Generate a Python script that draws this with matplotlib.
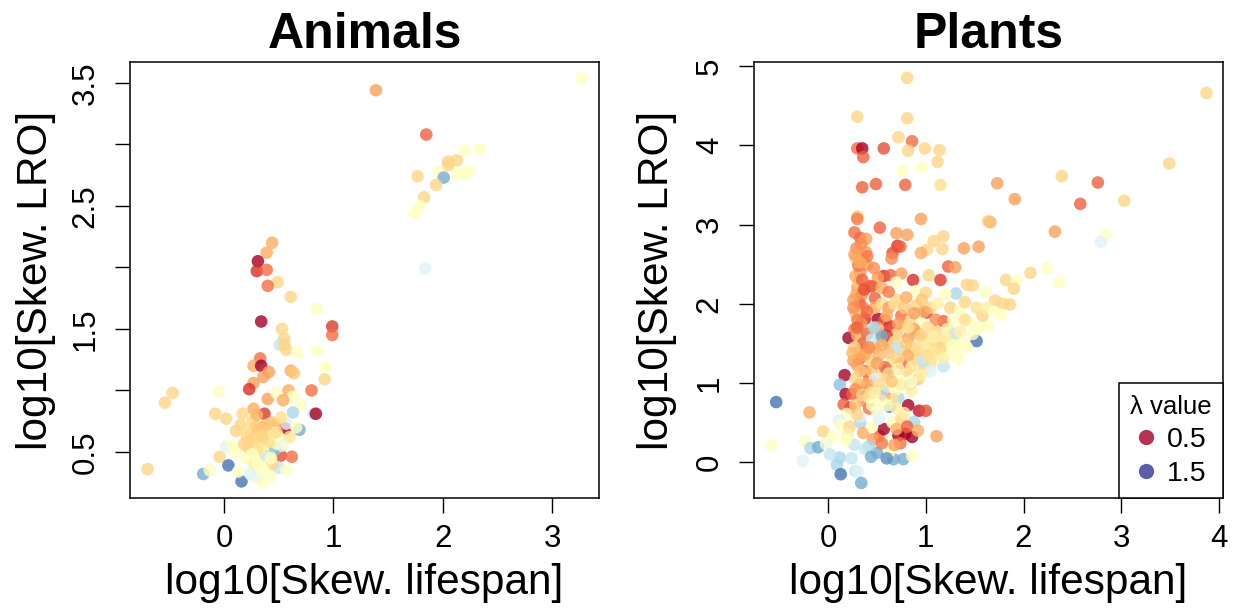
import matplotlib
matplotlib.use("Agg")
import matplotlib.pyplot as plt
from matplotlib.colors import Normalize
from matplotlib.lines import Line2D

plt.rcParams['font.family'] = ['Liberation Sans', 'DejaVu Sans']

# ---- Animals: log10 skewness of lifespan (x), of LRO (y), lambda value ----
animal_x = [
    3.27, 1.39, 1.85, 2.20, 2.34, 2.05, 2.13, 2.05,
    1.96, 2.13, 2.19, 2.24, 1.77, 2.01, 1.94, 1.83,
    1.79, 1.74, 1.84, 0.44, 0.39, 0.31, 0.30, 0.39,
    0.49, 0.40, 0.61, 0.85, 0.34, 0.99, 0.99, 0.53,
    0.55, 0.51, 0.55, 0.57, 0.67, 0.85, 0.93, 0.92,
    0.33, 0.27, 0.34, 0.41, 0.36, 0.61, 0.64, 0.27,
    0.23, 0.80, -0.05, -0.47, -0.54, 0.40, 0.48, 0.59,
    0.63, 0.70, 0.54, 0.82, 0.84, -0.08, 0.02, 0.17,
    0.27, 0.37, 0.63, 0.69, 0.56, 0.57, 0.26, 0.11,
    0.47, 0.21, 0.25, 0.30, 0.34, 0.28, 0.37, 0.42,
    0.45, 0.50, 0.23, 0.18, 0.40, 0.32, 0.52, 0.62,
    -0.04, -0.70, -0.19, -0.13, 0.04, 0.16, 0.35, 0.13,
    0.30, 0.38, 0.02, 0.50, 0.57, 0.47, 0.26, 0.44,
    0.20, 0.10, 0.36, 0.42, 0.24, 0.07, 0.48, 0.44,
    0.60, 0.30, 0.52, 0.15, 0.35, 0.66, 0.28, 0.53,
    0.25, 0.32, 0.38, 0.29, 0.41, 0.33, 0.45, 0.20,
    0.22, 0.35, 0.30, 0.39, 0.26, 0.43, 0.31, 0.48,
]
animal_y = [
    3.54, 3.44, 3.08, 2.95, 2.96, 2.86, 2.87, 2.83,
    2.78, 2.76, 2.76, 2.78, 2.74, 2.73, 2.67, 2.57,
    2.50, 2.44, 1.99, 2.20, 2.12, 2.05, 1.97, 1.98,
    1.88, 1.85, 1.76, 1.66, 1.56, 1.52, 1.45, 1.50,
    1.42, 1.37, 1.37, 1.33, 1.31, 1.32, 1.19, 1.09,
    1.26, 1.20, 1.20, 1.15, 1.11, 1.16, 1.14, 1.06,
    1.01, 1.00, 0.99, 0.98, 0.90, 0.93, 0.98, 1.00,
    0.95, 0.88, 0.92, 0.81, 0.81, 0.81, 0.77, 0.81,
    0.85, 0.81, 0.82, 0.68, 0.69, 0.73, 0.75, 0.67,
    0.72, 0.62, 0.65, 0.68, 0.60, 0.57, 0.55, 0.63,
    0.58, 0.62, 0.52, 0.56, 0.50, 0.48, 0.47, 0.46,
    0.46, 0.36, 0.32, 0.35, 0.39, 0.26, 0.25, 0.34,
    0.29, 0.47, 0.54, 0.37, 0.35, 0.52, 0.42, 0.40,
    0.45, 0.50, 0.36, 0.30, 0.32, 0.55, 0.57, 0.74,
    0.62, 0.80, 0.78, 0.72, 0.70, 0.70, 0.40, 0.55,
    0.60, 0.63, 0.66, 0.70, 0.58, 0.52, 0.65, 0.68,
    0.58, 0.63, 0.52, 0.72, 0.48, 0.45, 0.40, 0.66,
]
animal_lam = [
    1.0, 0.78, 0.68, 1.0, 1.0, 0.88, 0.88, 0.88,
    1.0, 1.0, 1.0, 1.0, 0.88, 1.3, 0.88, 0.88,
    1.0, 1.0, 1.1, 0.8, 0.8, 0.5, 0.6, 0.7,
    0.88, 0.7, 0.88, 1.0, 0.5, 0.62, 0.7, 0.88,
    0.88, 1.15, 0.88, 0.88, 1.0, 1.0, 1.0, 0.88,
    0.7, 0.8, 0.5, 0.78, 0.78, 0.8, 0.85, 0.78,
    0.6, 0.7, 1.0, 0.88, 0.88, 0.78, 1.0, 0.8,
    1.0, 1.0, 0.8, 1.15, 0.5, 0.88, 0.88, 0.88,
    0.8, 0.62, 1.2, 1.3, 0.5, 1.1, 0.88, 0.88,
    0.8, 0.88, 0.88, 0.85, 0.88, 0.9, 0.88, 0.8,
    1.0, 1.0, 0.88, 0.88, 1.0, 1.0, 0.65, 0.7,
    0.88, 0.88, 1.3, 1.0, 1.4, 1.4, 1.0, 1.0,
    1.05, 1.15, 1.1, 1.15, 1.0, 1.25, 1.0, 0.88,
    1.0, 1.0, 1.0, 1.0, 1.1, 1.0, 1.0, 0.85,
    0.92, 0.82, 0.9, 0.88, 0.8, 1.0, 0.95, 1.05,
    0.88, 0.88, 0.88, 0.86, 0.9, 0.95, 0.95, 0.9,
    0.88, 0.88, 0.9, 0.85, 1.0, 1.0, 1.0, 0.9,
]

# ---- Plants ----
plant_x = [
    0.81, 3.87, 0.30, 0.81, 0.72, 0.86, 0.30, 0.35,
    0.36, 0.57, 0.82, 0.99, 1.14, 1.12, 0.96, 0.76,
    0.35, 0.49, 0.79, 1.15, 1.73, 2.39, 2.76, 3.49,
    1.91, 2.58, 3.03, 0.30, 0.30, 0.95, 1.66, 1.64,
    0.53, 2.32, 2.84, 2.79, 0.70, 0.81, 0.33, 0.39,
    1.18, 1.08, 1.17, 1.01, 0.95, 1.39, 1.54, 0.71,
    0.74, 0.66, 0.65, 0.29, 0.39, 0.36, 0.29, 0.40,
    1.23, 1.30, 2.07, 2.24, 2.36, 1.82, 1.93, 1.90,
    0.57, 0.64, 0.51, 0.75, 0.87, 0.70, 1.03, 1.15,
    1.42, 1.48, 1.61, 1.71, 1.79, 1.86, 1.77, 1.64,
    1.31, 1.52, 0.30, 0.31, 0.45, 0.90, 1.00, 1.20,
    0.33, 0.28, 0.32, 0.48, 0.29, 0.43, 0.38, 0.51,
    0.58, 0.32, 0.38, 0.55, 0.63, 0.82, 1.01, 1.18,
    0.33, 0.32, 0.21, 0.17, 0.12, 0.18, 0.25, 0.16,
    0.23, 0.61, 0.38, 0.58, 0.82, 0.93, 1.00, 0.88,
    1.11, 0.72, 0.84, 0.63, 0.33, 0.19, 0.11, 0.13,
    -0.05, -0.24, -0.18, -0.10, -0.26, 0.12, 0.09, 0.13,
    0.28, 0.31, 0.34, -0.53, -0.58, -0.19, 0.53, 0.46,
    0.63, 0.72, 0.79, 0.86, 0.57, 0.50, 0.67, 0.77,
    0.63, 0.86, 0.42, 0.38, 0.44, 0.60, 0.74, 0.68,
    0.55, 0.36, 0.22, 0.27, 0.33, 0.20, 0.05, -0.02,
    0.02, 0.24, 0.18, 0.45, 0.52, 0.66, 0.75, 0.70,
    0.81, 0.92, 0.27, 0.34, 0.27, 0.31, 0.35, 0.26,
    0.36, 0.28, 0.34, 0.27, 0.30, 0.36, 0.27, 0.39,
    0.30, 0.38, 0.28, 0.42, 0.32, 0.45, 0.36, 0.28,
    0.42, 0.30, 0.40, 0.44, 0.30, 0.35, 0.48, 0.55,
    0.62, 0.70, 0.80, 0.90, 0.75, 0.85, 0.95, 1.05,
    1.12, 1.25, 1.35, 1.40, 1.28, 1.45, 1.10, 1.00,
    0.92, 0.70, 0.62, 0.48, 0.52, 0.45, 0.55, 0.65,
    0.75, 0.85, 0.90, 0.95, 1.05, 1.12, 1.20, 1.30,
    1.38, 1.25, 1.15, 1.05, 0.98, 1.18, 1.05, 1.48,
    1.42, 1.33, 0.80, 0.72, 0.62, 0.85, 0.70, 0.55,
    0.50, 0.92, 0.75, 0.60, 0.68, 0.88, 0.50, 0.45,
    0.58, 0.48, 1.58, 1.52, 0.82, 1.10, 0.98, 0.78,
    1.22, 1.00, 1.10, 1.15, 0.56, 0.42, 0.66, 0.78,
    0.55, 0.47, 0.70, 1.30, 0.97,
    0.40, 0.33, 0.37, 0.26, 0.40, 0.30, 0.37, 0.26,
    0.33, 0.40, 0.28, 0.35, 0.44, 0.25, 0.42, 0.47,
    0.55, 0.62, 0.68, 0.78, 0.88, 0.96, 0.60, 0.72,
    0.82, 0.95, 1.02, 1.08, 1.20, 1.28, 1.18, 1.08,
    1.02, 0.90, 0.80, 0.72, 0.62, 0.55, 0.50, 0.62,
    0.72, 0.85, 0.95, 0.85, 0.75, 0.65, 0.52, 0.48,
    0.60, 0.70, 0.45, 1.35, 1.40, 1.62, 1.70, 1.55,
]
plant_y = [
    4.85, 4.66, 4.36, 4.34, 4.10, 4.05, 3.96, 3.96,
    3.85, 3.96, 3.93, 3.96, 3.94, 3.79, 3.72, 3.68,
    3.47, 3.51, 3.50, 3.50, 3.52, 3.61, 3.53, 3.77,
    3.32, 3.26, 3.30, 3.10, 3.07, 3.07, 3.03, 3.04,
    2.96, 2.91, 2.86, 2.78, 2.89, 2.87, 2.83, 2.82,
    2.85, 2.79, 2.69, 2.68, 2.64, 2.70, 2.72, 2.73,
    2.72, 2.64, 2.57, 2.70, 2.65, 2.56, 2.56, 2.49,
    2.47, 2.46, 2.39, 2.45, 2.27, 2.30, 2.29, 2.19,
    2.35, 2.36, 2.33, 2.38, 2.30, 2.27, 2.36, 2.30,
    2.24, 2.23, 2.14, 2.04, 2.00, 1.99, 1.86, 1.72,
    2.13, 1.53, 2.20, 2.27, 2.22, 2.16, 2.14, 2.12,
    2.40, 2.35, 2.01, 2.07, 2.12, 2.22, 1.81, 1.81,
    1.80, 1.55, 1.65, 1.62, 1.72, 1.57, 1.89, 1.78,
    1.42, 1.30, 1.57, 1.10, 0.98, 0.86, 0.86, 0.73,
    0.69, 1.17, 0.90, 0.84, 0.72, 0.65, 0.65, 0.51,
    0.33, 0.81, 0.98, 0.70, 0.50, 0.61, 0.53, 0.47,
    0.39, 0.27, 0.18, 0.19, 0.02, 0.06, -0.03, -0.15,
    -0.11, -0.12, -0.26, 0.76, 0.21, 0.63, 0.33, 0.29,
    0.29, 0.34, 0.36, 0.32, 0.42, 0.12, 0.04, 0.04,
    0.14, 0.08, 0.20, 0.17, 0.07, 0.05, 0.24, 0.22,
    0.24, 0.37, 0.45, 0.22, 0.58, 0.35, 0.32, 0.23,
    0.10, 0.05, 0.28, 0.45, 0.55, 0.50, 0.55, 0.42,
    0.45, 0.40, 2.90, 2.75, 2.62, 2.48, 2.30, 2.05,
    1.95, 1.88, 1.75, 1.68, 1.60, 1.50, 1.45, 1.38,
    1.22, 1.15, 1.05, 1.05, 0.98, 0.95, 0.78, 0.72,
    0.68, 0.60, 1.62, 1.28, 1.80, 2.12, 1.95, 2.00,
    1.95, 2.05, 2.08, 1.98, 1.85, 1.80, 1.75, 1.95,
    2.00, 1.95, 1.92, 2.02, 1.80, 1.75, 1.65, 1.55,
    1.62, 1.62, 1.50, 1.45, 1.35, 1.15, 1.08, 1.25,
    1.40, 1.45, 1.30, 1.40, 1.45, 1.35, 1.42, 1.38,
    1.50, 1.55, 1.55, 1.25, 1.18, 1.21, 1.15, 1.62,
    1.45, 1.30, 1.15, 1.05, 0.95, 0.90, 0.92, 0.78,
    0.65, 1.05, 1.25, 1.60, 1.52, 1.68, 1.70, 1.55,
    1.20, 1.05, 1.85, 1.95, 1.35, 1.80, 1.90, 1.72,
    1.68, 1.48, 1.50, 1.43, 0.90, 0.82, 0.80, 0.62,
    1.59, 1.70, 1.45, 1.62, 1.28,
    2.60, 2.52, 2.18, 1.95, 1.90, 1.70, 1.35, 1.28,
    1.15, 0.98, 0.92, 0.85, 0.88, 1.38, 1.45, 2.45,
    2.20, 2.15, 2.00, 1.95, 1.88, 2.05, 1.85, 1.75,
    1.70, 1.60, 1.70, 1.58, 1.58, 1.48, 1.32, 1.40,
    1.35, 1.45, 1.50, 1.30, 1.38, 1.48, 1.25, 1.12,
    1.18, 1.20, 1.10, 1.02, 0.98, 1.02, 0.98, 0.88,
    0.72, 0.68, 0.72, 1.65, 1.80, 1.95, 1.90, 1.70,
]
plant_lam = [
    0.88, 0.88, 0.88, 0.88, 0.88, 0.7, 0.7, 0.5,
    0.68, 0.65, 0.88, 0.88, 0.88, 0.88, 1.0, 1.0,
    0.68, 0.68, 0.68, 0.9, 0.78, 0.88, 0.68, 0.88,
    0.78, 0.68, 0.88, 0.85, 0.72, 0.78, 0.8, 0.85,
    0.68, 0.78, 1.0, 1.1, 0.78, 0.78, 0.68, 0.78,
    0.88, 0.88, 0.88, 0.88, 0.8, 0.78, 0.78, 0.6,
    0.68, 0.65, 0.75, 0.75, 0.78, 0.75, 0.85, 0.78,
    0.68, 0.78, 0.88, 1.0, 1.0, 0.88, 1.0, 0.88,
    0.6, 0.68, 0.78, 0.78, 0.6, 1.0, 0.88, 0.62,
    0.88, 0.88, 1.0, 0.88, 0.88, 0.88, 1.0, 1.0,
    1.2, 1.4, 0.78, 0.85, 0.68, 1.0, 0.88, 1.0,
    0.75, 0.8, 0.62, 0.68, 0.8, 0.68, 0.6, 0.5,
    0.68, 1.05, 1.2, 0.78, 0.6, 0.78, 0.62, 0.68,
    0.78, 0.68, 0.5, 0.5, 1.25, 0.5, 0.68, 0.68,
    0.65, 1.4, 0.5, 0.6, 0.5, 0.55, 0.65, 1.2,
    0.78, 1.2, 1.2, 1.35, 1.2, 1.0, 1.1, 1.0,
    0.88, 1.0, 1.2, 1.3, 1.1, 1.2, 1.2, 1.4,
    1.15, 1.1, 1.3, 1.4, 1.0, 0.8, 0.68, 0.78,
    1.05, 0.5, 0.5, 0.5, 0.5, 1.3, 1.3, 1.3,
    1.0, 1.0, 1.2, 1.15, 1.3, 1.35, 0.7, 0.78,
    0.72, 0.8, 0.88, 1.15, 1.1, 0.95, 1.0, 1.05,
    1.15, 1.15, 1.0, 1.0, 1.1, 1.0, 0.88, 0.8,
    0.68, 0.8, 0.7, 0.75, 0.78, 0.72, 0.68, 0.78,
    0.72, 0.85, 0.78, 0.72, 0.8, 0.68, 0.85, 0.78,
    0.78, 0.7, 0.88, 0.72, 0.85, 0.78, 0.75, 0.85,
    0.7, 0.88, 0.7, 0.88, 0.72, 0.75, 0.8, 0.9,
    0.78, 0.88, 0.8, 0.88, 0.7, 0.88, 1.0, 0.88,
    0.95, 0.88, 1.0, 0.88, 1.0, 1.0, 0.88, 0.88,
    0.82, 0.85, 0.78, 0.78, 0.82, 0.85, 0.88, 0.9,
    0.88, 0.85, 0.88, 0.88, 0.9, 0.95, 1.0, 1.0,
    1.0, 0.9, 0.88, 0.9, 0.88, 1.15, 1.1, 1.0,
    1.0, 1.0, 0.88, 1.0, 0.95, 0.95, 1.0, 1.0,
    1.05, 0.85, 0.68, 0.62, 0.88, 0.78, 0.8, 1.15,
    0.7, 1.1, 0.88, 0.9, 0.8, 0.75, 0.8, 0.88,
    0.95, 0.95, 0.9, 0.88, 1.15, 1.0, 0.9, 0.95,
    1.3, 1.2, 1.15, 1.15, 1.15,
    0.72, 0.8, 0.65, 0.75, 0.7, 0.68, 0.8, 0.78,
    0.85, 0.8, 0.75, 0.88, 0.9, 0.82, 0.75, 0.75,
    0.8, 0.72, 0.9, 0.85, 0.78, 0.85, 0.8, 0.78,
    0.9, 0.88, 0.9, 0.95, 0.95, 1.0, 0.95, 0.92,
    0.9, 0.9, 0.85, 0.88, 0.85, 0.8, 0.78, 0.88,
    0.95, 0.9, 0.95, 1.0, 0.95, 0.85, 0.9, 0.95,
    1.0, 0.95, 1.0, 0.95, 0.9, 0.95, 1.0, 1.0,
]

legend_values = [0.5, 1.5]

assert len(animal_x) == len(animal_y) == len(animal_lam)
assert len(plant_x) == len(plant_y) == len(plant_lam)

cmap = plt.get_cmap('RdYlBu')
norm = Normalize(vmin=0.5, vmax=1.5)

fig = plt.figure(figsize=(12.35, 6.13), dpi=100)
ax1 = fig.add_axes([130 / 1235, 1 - 498 / 613, 469 / 1235, 436 / 613])
ax2 = fig.add_axes([754 / 1235, 1 - 498 / 613, 469 / 1235, 436 / 613])


def style_axes(ax, title):
    ax.set_title(title, fontsize=36, fontweight='bold', pad=10)
    ax.set_xlabel('log10[Skew. lifespan]', fontsize=30.5, va='center')
    ax.set_ylabel('log10[Skew. LRO]', fontsize=30.5, va='center', ha='center')
    ax.xaxis.set_label_coords(0.5, -0.195)
    ax.tick_params(axis='both', labelsize=22.5, length=11, width=1.0, direction='out')
    ax.tick_params(axis='x', pad=8)
    ax.tick_params(axis='y', pad=10)
    for lab in ax.get_yticklabels():
        lab.set_rotation(90)
        lab.set_va('center')
    for sp in ax.spines.values():
        sp.set_linewidth(1.1)


# Animals panel
ax1.scatter(animal_x, animal_y, c=cmap(norm(animal_lam)), s=82, alpha=0.8,
            edgecolors='none')
ax1.set_xlim(-0.86, 3.43)
ax1.set_ylim(0.125, 3.67)
ax1.set_xticks([0, 1, 2, 3])
ax1.set_yticks([0.5, 1.0, 1.5, 2.0, 2.5, 3.0, 3.5],
               ['0.5', '', '1.5', '', '2.5', '', '3.5'])
style_axes(ax1, 'Animals')
ax1.yaxis.set_label_coords(-0.200, 0.5)

# Plants panel
ax2.scatter(plant_x, plant_y, c=cmap(norm(plant_lam)), s=82, alpha=0.8,
            edgecolors='none')
ax2.set_xlim(-0.757, 4.04)
ax2.set_ylim(-0.45, 5.05)
ax2.set_xticks([0, 1, 2, 3, 4])
ax2.set_yticks([0, 1, 2, 3, 4, 5])
style_axes(ax2, 'Plants')
ax2.yaxis.set_label_coords(-0.207, 0.5)

# lambda legend in the lower right corner of the plants panel
handles = [Line2D([], [], marker='o', linestyle='none', markersize=11,
                  markerfacecolor=cmap(norm(v)), markeredgecolor='none', alpha=0.8)
           for v in legend_values]
leg = ax2.legend(handles, [str(v) for v in legend_values], title='λ value',
                 loc='lower right', borderaxespad=0, fancybox=False,
                 edgecolor='black', framealpha=1, fontsize=20.5, title_fontsize=18.5,
                 handletextpad=0.35, handlelength=0.8, labelspacing=0.28,
                 borderpad=0.4)
leg.get_frame().set_linewidth(1.1)

fig.savefig('out.png', dpi=100)
